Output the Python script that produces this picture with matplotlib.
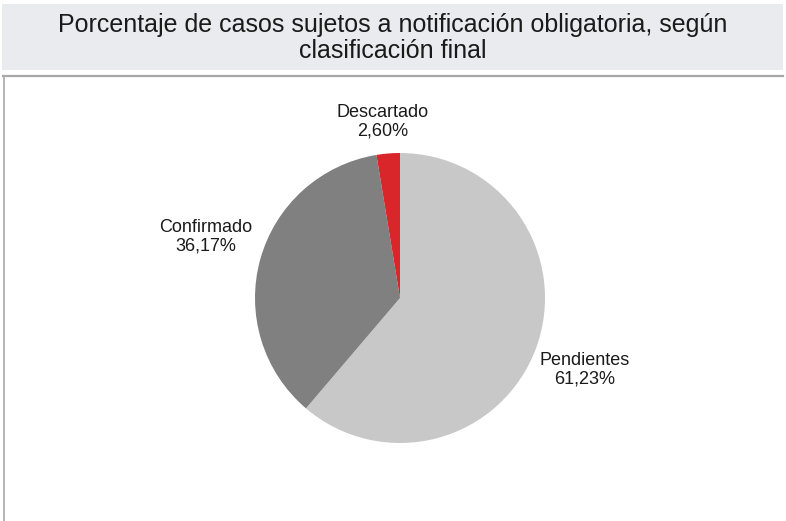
import matplotlib
matplotlib.use('Agg')
import matplotlib.pyplot as plt
from matplotlib.patches import Rectangle

plt.rcParams['font.family'] = ['Liberation Sans', 'DejaVu Sans']

categorias = ['Pendientes', 'Confirmado', 'Descartado']
porcentajes = [61.23, 36.17, 2.60]
colores = ['#c8c8c8', '#808080', '#d9262b']
etiquetas = ['61,23%', '36,17%', '2,60%']

W, H = 786, 521
fig = plt.figure(figsize=(W / 100, H / 100), dpi=100)
fig.patch.set_facecolor('white')

# barra del titulo
fig.patches.append(Rectangle((2 / W, 1 - 70 / H), 781 / W, 66 / H,
                             transform=fig.transFigure, facecolor='#eaebee',
                             edgecolor='none'))
fig.text(0.5, 1 - 38 / H,
         'Porcentaje de casos sujetos a notificación obligatoria, según\nclasificación final',
         ha='center', va='center', fontsize=18, color='#1a1a1a', linespacing=1.1)

# marco del panel
fig.add_artist(plt.Line2D([3 / W, 783 / W], [1 - 75.5 / H, 1 - 75.5 / H],
                          transform=fig.transFigure, color='#a8a8a8', lw=1.6))
fig.add_artist(plt.Line2D([3.5 / W, 3.5 / W], [0, 1 - 75.5 / H],
                          transform=fig.transFigure, color='#a8a8a8', lw=1.2))

cx, cy, r = 400, 298, 145
ax = fig.add_axes([(cx - r) / W, 1 - (cy + r) / H, 2 * r / W, 2 * r / H])
ax.pie(porcentajes, colors=colores, startangle=90, counterclock=False,
       wedgeprops=dict(linewidth=0))
ax.set_xlim(-1, 1)
ax.set_ylim(-1, 1)
ax.set_aspect('equal')
ax.axis('off')

pos_etiquetas = [(585, 370), (206, 237), (383, 122)]
for cat, et, (px, py) in zip(categorias, etiquetas, pos_etiquetas):
    fig.text(px / W, 1 - py / H, cat + '\n' + et, ha='center', va='center',
             fontsize=13, color='#1a1a1a', linespacing=1.1)

fig.savefig('out.png', dpi=100)
